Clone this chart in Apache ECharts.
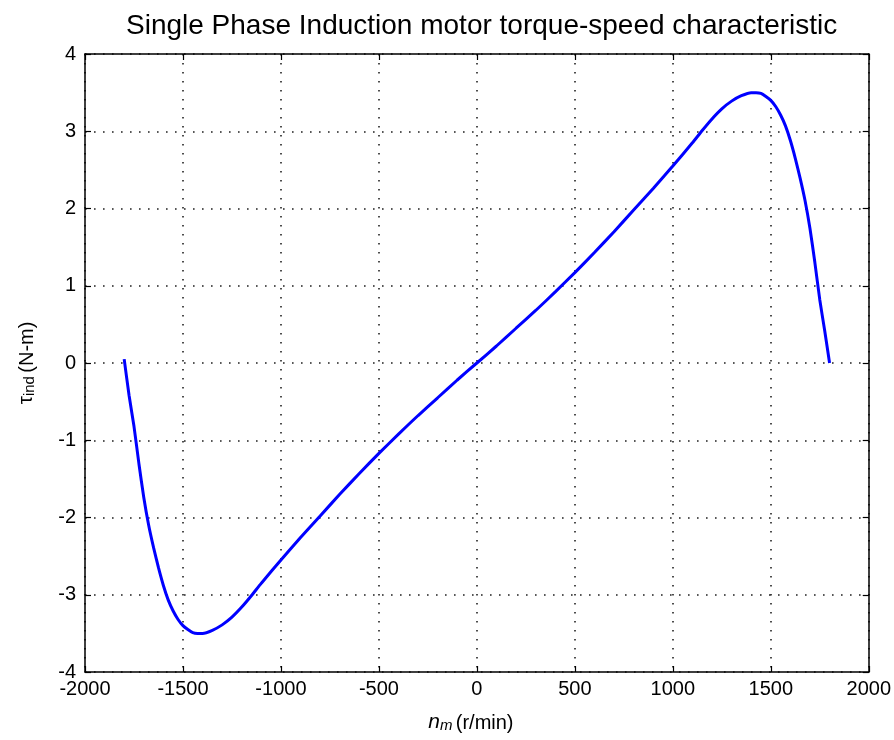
<!DOCTYPE html>
<html><head><meta charset="utf-8">
<script src="https://cdn.jsdelivr.net/npm/echarts@6/dist/echarts.min.js"></script>
<style>html,body{margin:0;padding:0;background:#fff}#c{width:894px;height:740px}</style>
</head><body><div id="c"></div>
<script>
const speed = [-1800,-1775,-1750,-1725,-1700,-1675,-1650,-1625,-1600,-1575,-1550,-1525,-1500,-1475,-1450,-1425,-1400,-1350,-1300,-1250,-1200,-1150,-1100,-1000,-900,-800,-700,-600,-500,-400,-300,-200,-100,0,100,200,300,400,500,600,700,800,900,1000,1100,1150,1200,1250,1300,1350,1400,1425,1450,1475,1500,1525,1550,1575,1600,1625,1650,1675,1700,1725,1750,1775,1800];
const torque = [0.05,-0.42,-0.82,-1.30,-1.74,-2.10,-2.39,-2.65,-2.88,-3.07,-3.21,-3.32,-3.40,-3.45,-3.49,-3.50,-3.50,-3.46,-3.39,-3.29,-3.16,-3.01,-2.85,-2.55,-2.26,-1.98,-1.70,-1.43,-1.17,-0.92,-0.68,-0.45,-0.22,0,0.22,0.45,0.68,0.92,1.17,1.43,1.70,1.98,2.26,2.55,2.85,3.01,3.16,3.29,3.39,3.46,3.50,3.50,3.49,3.45,3.40,3.32,3.21,3.07,2.88,2.65,2.39,2.10,1.74,1.30,0.82,0.42,0.0];
const xTicks = {min:-2000, max:2000, step:500};
const yTicks = {min:-4, max:4, step:1};
const titleText = 'Single Phase Induction motor torque-speed characteristic';

const FONT = '"Liberation Sans",Arial,sans-serif';
const chart = echarts.init(document.getElementById('c'), null, {renderer:'canvas'});
const gridLine = {show:true, lineStyle:{color:'#222', type:[1.6,7.4], width:1.6}};
const axisLine = {show:true, onZero:false, lineStyle:{color:'#000', width:1.5}};
const tick = {show:true, inside:true, length:6, lineStyle:{color:'#000', width:1.2}};
chart.setOption({
  animation:false,
  backgroundColor:'#fff',
  title:{text:titleText, left:121, top:7, textStyle:{fontFamily:FONT, fontSize:28, fontWeight:'normal', color:'#000'}},
  grid:{left:85, right:25, top:54, bottom:68},
  xAxis:[{
    type:'value', min:xTicks.min, max:xTicks.max, interval:xTicks.step, position:'bottom',
    axisLine:axisLine, axisTick:tick, splitLine:gridLine,
    axisLabel:{color:'#000', fontFamily:FONT, fontSize:20, margin:7, formatter:v=>String(v)},
    name:'{n|n}{m|m} {r|(r/min)}', nameLocation:'middle', nameGap:36,
    nameTextStyle:{padding:[0,12,0,0], rich:{
      n:{fontFamily:FONT, fontSize:21, fontStyle:'italic', color:'#000', verticalAlign:'bottom'},
      m:{fontFamily:FONT, fontSize:15, fontStyle:'italic', color:'#000', padding:[10,0,0,0], verticalAlign:'bottom'},
      r:{fontFamily:FONT, fontSize:20, color:'#000', verticalAlign:'bottom'}
    }}
  },{
    type:'value', min:xTicks.min, max:xTicks.max, interval:xTicks.step, position:'top',
    axisLine:axisLine, axisTick:tick, splitLine:{show:false}, axisLabel:{show:false}
  }],
  yAxis:[{
    type:'value', min:yTicks.min, max:yTicks.max, interval:yTicks.step, position:'left',
    axisLine:axisLine, axisTick:tick, splitLine:gridLine,
    axisLabel:{color:'#000', fontFamily:FONT, fontSize:20, margin:9, formatter:v=>String(v)},
    name:'{t|τ}{s|ind} {r|(N-m)}', nameLocation:'middle', nameGap:48, nameRotate:90,
    nameTextStyle:{rich:{
      t:{fontFamily:FONT, fontSize:21, color:'#000', verticalAlign:'bottom'},
      s:{fontFamily:FONT, fontSize:15, color:'#000', padding:[10,0,0,0], verticalAlign:'bottom'},
      r:{fontFamily:FONT, fontSize:20, color:'#000', verticalAlign:'bottom'}
    }}
  },{
    type:'value', min:yTicks.min, max:yTicks.max, interval:yTicks.step, position:'right',
    axisLine:axisLine, axisTick:tick, splitLine:{show:false}, axisLabel:{show:false}
  }],
  series:[{
    type:'line', data:speed.map((s,i)=>[s,torque[i]]), showSymbol:false, smooth:0.2,
    lineStyle:{color:'#0000ff', width:3}, xAxisIndex:0, yAxisIndex:0
  }]
});
</script></body></html>
